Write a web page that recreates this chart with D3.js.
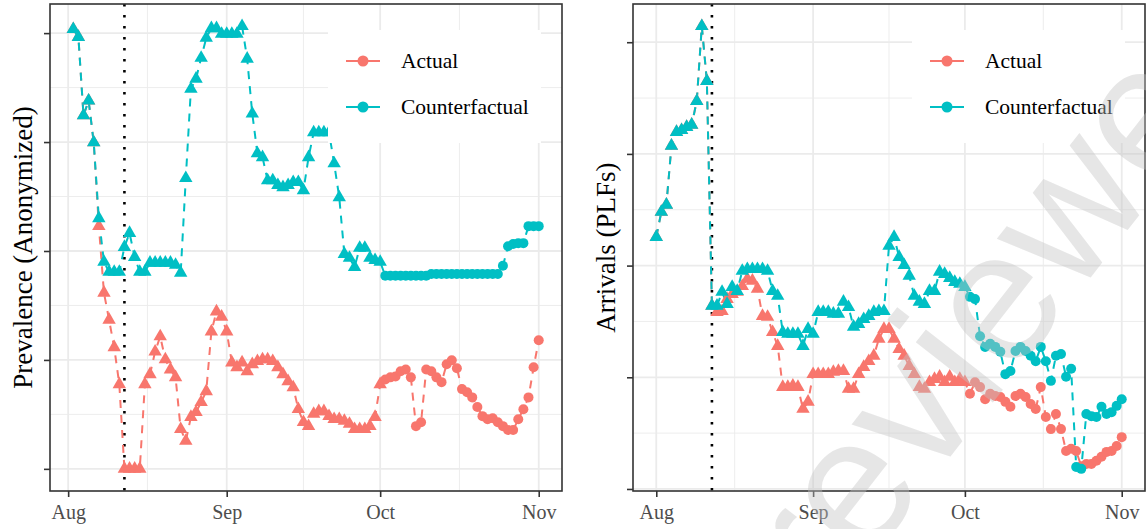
<!DOCTYPE html>
<html>
<head>
<meta charset="utf-8">
<script src="https://cdn.jsdelivr.net/npm/d3@7"></script>
<style>
  body { margin: 0; background: #fff; }
  svg { display: block; }
</style>
</head>
<body>
<svg id="chart" width="1146" height="529"></svg>
<script>
// ---- data -------------------------------------------------------------
const seriesNames = ["Actual", "Counterfactual"];
const seriesColors = ["#F8766D", "#00BFC4"];
const monthLabels = ["Aug", "Sep", "Oct", "Nov"];
const yTickValues = [0, 25, 50, 75, 100];

// daily prevalence index, 2 Aug – 1 Nov
const prevalenceStart = "2020-08-02";
const prevalenceActual = [
  100.9, 99.1, 81.1, 84.5, 74.9, 55.7, 40.4, 34.2, 27.9, 19.4,
  0, 0, 0, 0, 19.4, 21.7, 26.9, 30.4, 25.1, 22.8,
  21.0, 9.1, 6.4, 11.9, 13.0, 15.3, 17.8, 31.5, 36.1, 34.9,
  31.5, 24.4, 23.3, 24.4, 22.4, 24.0, 24.7, 25.1, 25.1, 24.7,
  23.3, 21.7, 20.1, 18.7, 13.7, 10.7, 9.8, 12.6, 13.2, 13.2,
  12.1, 11.4, 11.4, 11.0, 10.3, 9.1, 9.1, 9.1, 9.8, 11.9,
  19.4, 20.5, 21.0, 21.2, 22.4, 22.8, 21.0, 9.8, 10.7, 22.8,
  22.4, 21.0, 19.9, 24.0, 24.9, 23.1, 18.3, 17.6, 16.4, 14.2,
  12.1, 11.4, 11.6, 10.7, 9.8, 8.9, 8.9, 11.4, 13.7, 16.4, 23.3,
  29.5
];
const prevalenceCounterfactual = [
  100.9, 99.1, 81.1, 84.5, 74.9, 57.5, 47.5, 45.2, 45.2, 45.2,
  50.9, 54.1, 48.6, 45.2, 45.2, 47.3, 47.3, 47.3, 47.3, 47.3,
  46.8, 45.0, 66.7, 87.2, 89.5, 94.3, 98.9, 101.1, 101.1, 99.8,
  99.8, 99.8, 99.8, 101.6, 94.1, 81.5, 72.4, 71.5, 66.2, 66.2,
  65.1, 64.6, 65.1, 65.8, 65.8, 63.9, 71.5, 77.2, 77.2, 77.2,
  77.2, 70.1, 62.3, 49.3, 48.4, 46.3, 50.7, 50.7, 48.4, 47.9,
  47.5, 44.3, 44.3, 44.3, 44.3, 44.3, 44.3, 44.3, 44.3, 44.3,
  44.7, 44.7, 44.7, 44.7, 44.7, 44.7, 44.7, 44.7, 44.7, 44.7,
  44.7, 44.7, 44.7, 44.7, 46.6, 51.1, 51.6, 51.8, 51.8, 55.7, 55.7,
  55.7
];

// daily arrivals index, 1 Aug – 1 Nov
const arrivalsStart = "2020-08-01";
const arrivalsActual = [
  56.4, 62.0, 63.6, 76.8, 79.9, 80.3, 81.0, 81.5, 86.8, 103.6,
  91.3, 41.0, 39.6, 39.8, 42.5, 43.6, 44.1, 45.4, 47.0, 46.6,
  44.8, 38.7, 38.5, 35.1, 32.0, 22.8, 22.8, 23.1, 22.8, 17.9, 19.5,
  25.7, 25.7, 25.7, 25.7, 26.2, 26.4, 26.4, 22.4, 22.4, 25.7,
  27.3, 28.6, 29.8, 33.6, 35.8, 35.8, 33.6, 31.3, 29.8, 27.5,
  25.7, 22.8, 22.4, 23.9, 24.6, 25.1, 23.9, 25.1, 23.9, 24.6,
  23.9, 21.3, 23.9, 22.8, 20.1, 21.3, 20.8, 20.6, 19.5, 18.4,
  20.8, 21.3, 20.6, 19.0, 17.9, 22.8, 16.1, 13.4, 16.8, 13.4,
  8.5, 9.0, 8.5, 5.1, 5.6, 5.6, 6.3, 7.2, 8.3, 8.5, 9.6,
  11.6
];
const arrivalsCounterfactual = [
  56.4, 62.0, 63.6, 76.8, 79.9, 80.3, 81.0, 81.5, 86.8, 103.6,
  91.3, 41.0, 41.0, 44.1, 41.4, 45.2, 44.3, 48.8, 49.2, 49.2,
  49.2, 49.2, 48.8, 44.3, 43.2, 35.1, 34.7, 34.7, 34.7, 32.0, 35.8,
  34.7, 39.6, 39.6, 39.6, 39.2, 39.2, 41.9, 40.7, 36.3, 36.9,
  38.0, 38.7, 39.6, 39.8, 39.8, 54.4, 56.4, 51.9, 50.1, 47.7,
  43.2, 41.9, 41.4, 44.3, 44.3, 48.6, 48.1, 47.2, 46.3, 45.9,
  45.2, 43.0, 42.5, 34.2, 31.8, 32.5, 31.8, 30.7, 25.7, 26.4,
  30.9, 31.8, 30.9, 29.8, 28.6, 31.8, 28.6, 24.2, 29.8, 30.2,
  25.1, 26.9, 4.9, 4.5, 16.8, 16.3, 16.1, 18.4, 16.8, 17.2, 18.6,
  20.1
];

const interventionDate = "2020-08-12";   // dotted reference line
const circleFromDate = "2020-10-02";     // marker switches from triangle to circle

// ---- drawing ------------------------------------------------------------
const parse = d3.timeParse("%Y-%m-%d");
const svg = d3.select("#chart");
const FONT = "'Liberation Serif', 'Times New Roman', serif";

function drawPanel(cfg) {
  const { left, right, top, bottom } = cfg.box;
  const g = svg.append("g");
  const start = parse(cfg.start);
  const switchDate = parse(circleFromDate);

  const series = [cfg.actual, cfg.counterfactual].map((vals, k) => ({
    name: seriesNames[k],
    color: seriesColors[k],
    points: vals.map((v, i) => ({ date: d3.timeDay.offset(start, i), v }))
  }));

  const allDates = series[0].points.map(p => p.date);
  const [d0, d1] = d3.extent(allDates);
  const span = d1 - d0;
  const x = d3.scaleTime()
    .domain([new Date(+d0 - span * 0.05), new Date(+d1 + span * 0.05)])
    .range([left, right]);

  const allVals = cfg.actual.concat(cfg.counterfactual);
  const [v0, v1] = d3.extent(allVals);
  const vr = v1 - v0;
  const y = d3.scaleLinear()
    .domain([v0 - vr * 0.05, v1 + vr * 0.05])
    .range([bottom, top]);

  // grid
  const months = monthLabels.map((m, i) => new Date(2020, 7 + i, 1));
  const minorX = d3.pairs(months).map(([a, b]) => new Date((+a + +b) / 2));
  const minorY = d3.pairs(yTickValues).map(([a, b]) => (a + b) / 2);
  const grid = g.append("g");
  grid.selectAll(".mx").data(minorX).join("line")
    .attr("x1", d => x(d)).attr("x2", d => x(d))
    .attr("y1", top).attr("y2", bottom)
    .attr("stroke", "#ebebeb").attr("stroke-width", 0.9);
  grid.selectAll(".my").data(minorY).join("line")
    .attr("y1", d => y(d)).attr("y2", d => y(d))
    .attr("x1", left).attr("x2", right)
    .attr("stroke", "#ebebeb").attr("stroke-width", 0.9);
  grid.selectAll(".Mx").data(months).join("line")
    .attr("x1", d => x(d)).attr("x2", d => x(d))
    .attr("y1", top).attr("y2", bottom)
    .attr("stroke", "#ebebeb").attr("stroke-width", 1.8);
  grid.selectAll(".My").data(yTickValues).join("line")
    .attr("y1", d => y(d)).attr("y2", d => y(d))
    .attr("x1", left).attr("x2", right)
    .attr("stroke", "#ebebeb").attr("stroke-width", 1.8);

  // dotted intervention line
  g.append("line")
    .attr("x1", x(parse(interventionDate))).attr("x2", x(parse(interventionDate)))
    .attr("y1", top).attr("y2", bottom)
    .attr("stroke", "#000").attr("stroke-width", 2.6)
    .attr("stroke-dasharray", "2.6,8.4");

  // dashed lines
  const line = d3.line().x(p => x(p.date)).y(p => y(p.v));
  series.forEach(s => {
    g.append("path").datum(s.points)
      .attr("d", line)
      .attr("fill", "none")
      .attr("stroke", s.color)
      .attr("stroke-width", 2)
      .attr("stroke-dasharray", "8,7");
  });

  // markers
  const tri = d3.symbol().type(d3.symbolTriangle).size(78);
  series.forEach(s => {
    const pts = g.append("g");
    pts.selectAll("path.t").data(s.points.filter(p => p.date < switchDate)).join("path")
      .attr("d", tri)
      .attr("transform", p => `translate(${x(p.date)},${y(p.v)})`)
      .attr("fill", s.color);
    pts.selectAll("circle").data(s.points.filter(p => p.date >= switchDate)).join("circle")
      .attr("cx", p => x(p.date)).attr("cy", p => y(p.v)).attr("r", 5)
      .attr("fill", s.color);
  });

  // panel border
  g.append("rect")
    .attr("x", left).attr("y", top)
    .attr("width", right - left).attr("height", bottom - top)
    .attr("fill", "none").attr("stroke", "#333").attr("stroke-width", 1.6);

  // axes
  const xAxis = g.append("g").attr("transform", `translate(0,${bottom})`)
    .call(d3.axisBottom(x).tickValues(months)
      .tickFormat((d, i) => monthLabels[i]).tickSize(6).tickPadding(8));
  const yAxis = g.append("g").attr("transform", `translate(${left},0)`)
    .call(d3.axisLeft(y).tickValues(yTickValues).tickFormat("").tickSize(6));
  [xAxis, yAxis].forEach(a => {
    a.select(".domain").remove();
    a.selectAll(".tick line").attr("stroke", "#333").attr("stroke-width", 1.6);
    a.selectAll(".tick text").attr("fill", "#4d4d4d")
      .style("font-family", FONT).style("font-size", "20px");
  });

  // y title
  g.append("text")
    .attr("transform", `translate(${cfg.titleX},${(top + bottom) / 2}) rotate(-90)`)
    .attr("text-anchor", "middle").attr("dominant-baseline", "central")
    .style("font-family", FONT).style("font-size", "27px").attr("fill", "#000")
    .text(cfg.title);

  // legend
  const lg = g.append("g").attr("transform", `translate(${cfg.legendX},30)`);
  lg.append("rect").attr("width", 213).attr("height", 113).attr("fill", "#fff");
  seriesNames.forEach((name, k) => {
    const yy = 31 + k * 46;
    lg.append("line").attr("x1", 18).attr("x2", 52).attr("y1", yy).attr("y2", yy)
      .attr("stroke", seriesColors[k]).attr("stroke-width", 2);
    lg.append("circle").attr("cx", 35).attr("cy", yy).attr("r", 5.5).attr("fill", seriesColors[k]);
    lg.append("text").attr("x", 73).attr("y", yy).attr("dominant-baseline", "central")
      .style("font-family", FONT).style("font-size", "21.5px").attr("fill", "#000")
      .text(name);
  });
}

drawPanel({
  box: { left: 50, right: 562, top: 4, bottom: 491 },
  start: prevalenceStart,
  actual: prevalenceActual,
  counterfactual: prevalenceCounterfactual,
  title: "Prevalence (Anonymized)",
  titleX: 23,
  legendX: 328
});
drawPanel({
  box: { left: 633, right: 1145, top: 4, bottom: 491 },
  start: arrivalsStart,
  actual: arrivalsActual,
  counterfactual: arrivalsCounterfactual,
  title: "Arrivals (PLFs)",
  titleX: 606,
  legendX: 912
});

// diagonal watermark laid over the right panel
svg.append("text")
  .attr("transform", "translate(1055,323) rotate(-52)")
  .attr("text-anchor", "middle")
  .style("font-family", "'Liberation Sans', Arial, sans-serif")
  .style("font-size", "185px")
  .attr("fill", "#c4c4c4").attr("fill-opacity", 0.42)
  .text("reviewed");
</script>
</body>
</html>
